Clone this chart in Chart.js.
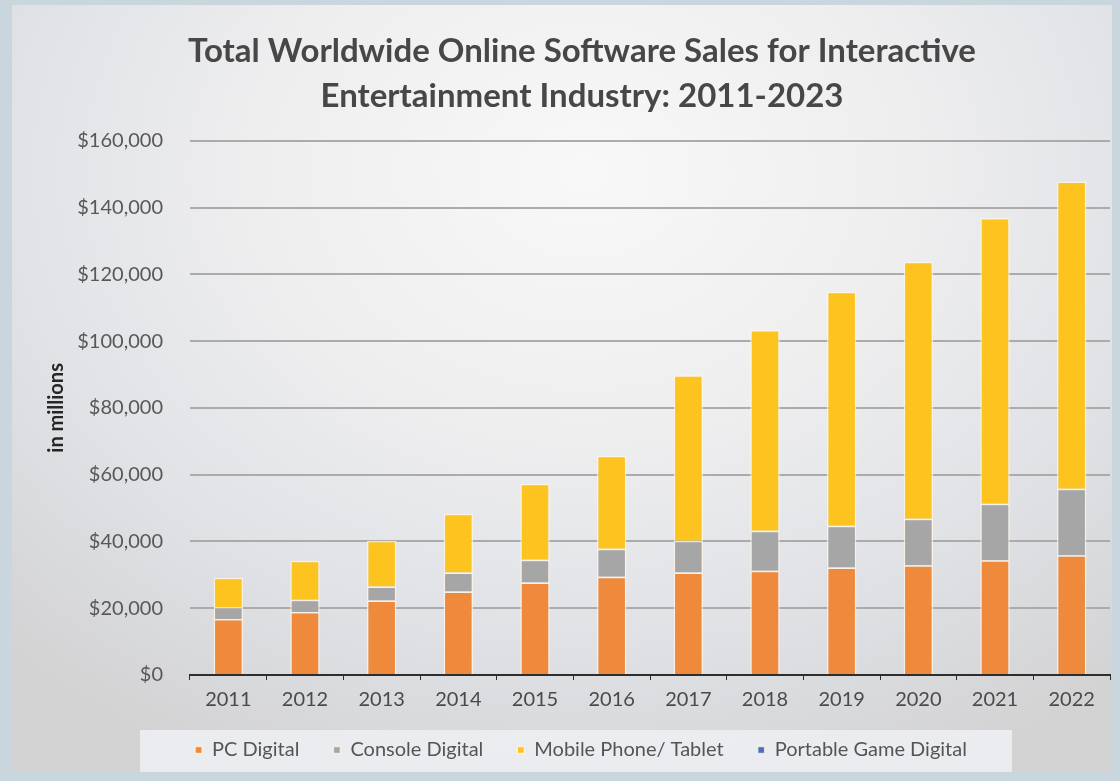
<!DOCTYPE html>
<html>
<head>
<meta charset="utf-8">
<script src="https://cdn.jsdelivr.net/npm/chart.js@4.4.1/dist/chart.umd.min.js"></script>
<style>
  html, body {
    margin: 0;
    padding: 0;
    background: #c9d6de;
  }
  #panel {
    position: absolute;
    left: 12px;
    top: 5px;
    width: 1100px;
    height: 767px;
    background: radial-gradient(ellipse 75% 85% at 52% 22%, #f8f8f8 0%, #eeeeef 40%, #e0e2e6 70%, #d3d3d4 100%);
  }
</style>
</head>
<body>
<div id="panel">
  <canvas id="chart" width="1100" height="767"></canvas>
</div>
<script>
  // Years on the x axis
  var years = ['2011', '2012', '2013', '2014', '2015', '2016', '2017', '2018', '2019', '2020', '2021', '2022'];

  // Sales by segment, in millions of dollars
  var pcDigital = [16800, 18900, 22300, 25000, 27700, 29400, 30700, 31200, 32200, 32900, 34400, 35900];
  var consoleDigital = [3600, 3600, 4200, 5700, 6800, 8400, 9500, 12000, 12500, 13900, 16900, 19900];
  var mobileTablet = [8700, 11700, 13700, 17600, 22800, 27900, 49600, 60100, 70100, 77000, 85600, 92000];
  var portableDigital = [0, 0, 0, 0, 0, 0, 0, 0, 0, 0, 0, 0];

  var titleLines = ['Total Worldwide Online Software Sales for Interactive', 'Entertainment Industry: 2011-2023'];

  var fontFamily = 'Lato, "Open Sans", sans-serif';

  // Legend strip: fixed height, light box behind it, title/legend nudged right
  var legendBox = {
    id: 'legendBox',
    beforeLayout: function(chart) {
      var legend = chart.legend;
      if (legend && !legend._fixedFit) {
        var fit = legend.fit;
        legend.fit = function() {
          fit.call(this);
          this.height = 42;
        };
        legend._fixedFit = true;
      }
    },
    afterLayout: function(chart) {
      chart.titleBlock.left = 42;
      chart.legend.left = 40;
      chart.legend.top = 701;
    },
    beforeDraw: function(chart) {
      var ctx = chart.ctx;
      ctx.save();
      ctx.fillStyle = 'rgba(236, 238, 242, 0.9)';
      ctx.fillRect(128, 725, 872, 42);
      ctx.restore();
    }
  };

  function makeSet(label, data, color) {
    return {
      label: label,
      data: data,
      backgroundColor: color,
      borderColor: 'rgba(255, 246, 232, 0.75)',
      borderWidth: 1.5,
      borderSkipped: 'bottom',
      barPercentage: 0.5,
      categoryPercentage: 0.77
    };
  }

  var ctx = document.getElementById('chart').getContext('2d');
  var chart = new Chart(ctx, {
    type: 'bar',
    data: {
      labels: years,
      datasets: [
        makeSet('PC Digital', pcDigital, '#ef8a3c'),
        makeSet('Console Digital', consoleDigital, '#a6a6a6'),
        makeSet('Mobile Phone/ Tablet', mobileTablet, '#fdc420'),
        makeSet('Portable Game Digital', portableDigital, '#4b6fc0')
      ]
    },
    plugins: [legendBox],
    options: {
      responsive: false,
      maintainAspectRatio: false,
      animation: false,
      layout: {
        padding: { left: 0, right: 2, top: 0, bottom: 0 }
      },
      plugins: {
        title: {
          display: true,
          text: titleLines,
          color: '#474747',
          font: { family: fontFamily, size: 33, weight: 'bold', lineHeight: 1.36 },
          padding: { top: 24, bottom: 22 }
        },
        legend: {
          position: 'bottom',
          labels: {
            color: '#555555',
            font: { family: fontFamily, size: 20 },
            boxWidth: 7,
            boxHeight: 7,
            padding: 34
          }
        },
        tooltip: { enabled: false }
      },
      scales: {
        x: {
          stacked: true,
          border: { display: true, color: '#2e2e2e', width: 2 },
          grid: {
            display: true,
            offset: true,
            drawOnChartArea: false,
            drawTicks: true,
            tickLength: 5,
            color: '#2e2e2e'
          },
          ticks: {
            color: '#4a4a4a',
            font: { family: fontFamily, size: 20 },
            padding: 8
          },
          afterFit: function(scale) {
            scale.height = 55;
          }
        },
        y: {
          stacked: true,
          min: 0,
          max: 160000,
          border: { display: false },
          grid: {
            color: '#ababab',
            lineWidth: 2,
            drawTicks: false
          },
          ticks: {
            stepSize: 20000,
            color: '#585858',
            font: { family: fontFamily, size: 20 },
            padding: 27,
            callback: function(v) {
              return '$' + v.toLocaleString('en-US');
            }
          },
          title: {
            display: true,
            text: 'in millions',
            color: '#262626',
            font: { family: fontFamily, size: 20, weight: 'bold' },
            padding: { top: 33, bottom: 0 }
          },
          afterFit: function(scale) {
            scale.width = 178;
          }
        }
      }
    }
  });
</script>
</body>
</html>
